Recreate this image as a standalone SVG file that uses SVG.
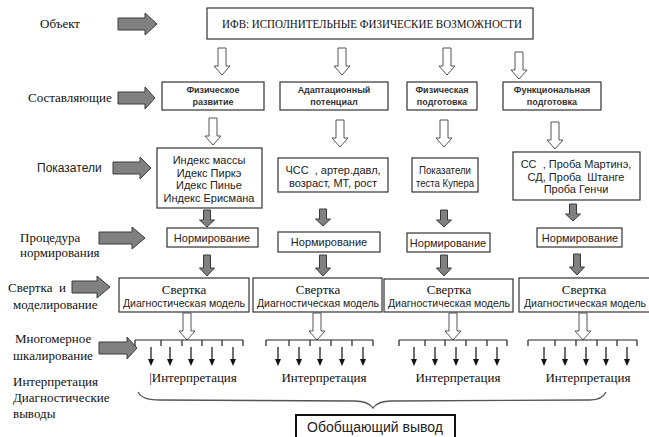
<svg xmlns="http://www.w3.org/2000/svg" width="649" height="437" viewBox="0 0 649 437">
<defs>
<style>
.bg{fill:#fff}
.box{fill:#fff;stroke:#333;stroke-width:1.2}
.sf{font-family:"Liberation Serif","Times New Roman",serif;fill:#111}
.ss{font-family:"Liberation Sans",Arial,sans-serif;fill:#222}
.lbl{font-size:13px}
.b2{font-size:9px;font-weight:bold;text-anchor:middle;fill:#333}
.b3{font-size:11px;text-anchor:middle}
.c{text-anchor:middle}
.garrow{fill:#808080;stroke:#3a3a3a;stroke-width:1}
.harrow{fill:#fff;stroke:#555;stroke-width:1}
.comb{fill:none;stroke:#222;stroke-width:1.2}
.karrow{stroke:#111;stroke-width:1.2}
</style>
<path id="hollow" d="M-4,0 V18 H-8 L0,27 L8,18 H4 V0 Z"/>
<path id="gdown" d="M-3.5,0 V10 H-7.5 L0,17 L7.5,10 H3.5 V0 Z"/>
<path id="gdown2" d="M-3.5,0 V13 H-7.5 L0,21 L7.5,13 H3.5 V0 Z"/>
<path id="karr" d="M0,0 V13"/>
<path id="khead" d="M-3,12 L3,12 L0,19 Z"/>
</defs>
<rect class="bg" x="0" y="0" width="649" height="437"/>

<!-- Left labels -->
<g id="labels">
<text class="sf lbl" x="40" y="28">Объект</text>
<text class="sf lbl" x="28" y="102">Составляющие</text>
<text class="ss" font-size="12" x="37" y="172">Показатели</text>
<text class="sf lbl" x="20" y="242">Процедура</text>
<text class="sf lbl" x="20" y="257">нормирования</text>
<text class="sf lbl" x="8" y="292" xml:space="preserve">Свертка  и</text>
<text class="sf lbl" x="13" y="309">моделирование</text>
<text class="sf lbl" x="15" y="343">Многомерное</text>
<text class="sf lbl" x="13" y="360">шкалирование</text>
<text class="sf lbl" x="13" y="386">Интерпретация</text>
<text class="sf lbl" x="13" y="402">Диагностические</text>
<text class="sf lbl" x="13" y="418">выводы</text>
</g>

<!-- Left gray block arrows -->
<g id="label-arrows" class="garrow">
<path d="M118,18 H145 V13 L157,24 L145,35 V30 H118 Z"/>
<path d="M118,92 H145 V87 L155,98 L145,109 V104 H118 Z"/>
<path d="M113,162 H140 V157 L151,168 L140,179 V174 H113 Z"/>
<path d="M99,232 H132 V227 L145,238 L132,249 V244 H99 Z"/>
<path d="M72,281 H97 V276 L110,287 L97,298 V293 H72 Z"/>
<path d="M99,342 H127 V337 L137,348 L127,359 V354 H99 Z"/>
</g>

<!-- Title -->
<g id="title">
<rect class="box" x="207" y="8" width="326" height="31" stroke-width="1"/>
<text class="sf c" font-size="12" x="372" y="28" textLength="300" lengthAdjust="spacingAndGlyphs">ИФВ: ИСПОЛНИТЕЛЬНЫЕ ФИЗИЧЕСКИЕ ВОЗМОЖНОСТИ</text>
</g>

<!-- Row 2 -->
<g id="comp1"><rect class="box" x="162" y="82" width="102" height="28"/><text class="ss b2" x="213" y="93">Физическое</text><text class="ss b2" x="213" y="105">развитие</text></g>
<g id="comp2"><rect class="box" x="280" y="82" width="108" height="28"/><text class="ss b2" x="334" y="93">Адаптационный</text><text class="ss b2" x="334" y="105">потенциал</text></g>
<g id="comp3"><rect class="box" x="407" y="82" width="70" height="28"/><text class="ss b2" x="442" y="93">Физическая</text><text class="ss b2" x="442" y="105">подготовка</text></g>
<g id="comp4"><rect class="box" x="503" y="82" width="98" height="28"/><text class="ss b2" x="552" y="93">Функциональная</text><text class="ss b2" x="552" y="105">подготовка</text></g>

<!-- Row 3 -->
<g id="ind1"><rect class="box" x="157" y="148" width="105" height="60"/>
<text class="ss b3" x="209" y="164">Индекс массы</text>
<text class="ss b3" x="209" y="177">Идекс Пиркэ</text>
<text class="ss b3" x="209" y="189">Идекс Пинье</text>
<text class="ss b3" x="209" y="202">Индекс Ерисмана</text></g>
<g id="ind2"><rect class="box" x="278" y="158" width="110" height="34"/>
<text class="ss b3" x="333" y="174" xml:space="preserve">ЧСС  , артер.давл,</text>
<text class="ss b3" x="333" y="187">возраст, МТ, рост</text></g>
<g id="ind3"><rect class="box" x="412" y="158" width="66" height="34"/>
<text class="ss b3" x="445" y="174" textLength="52" lengthAdjust="spacingAndGlyphs">Показатели</text>
<text class="ss b3" x="445" y="187" textLength="58" lengthAdjust="spacingAndGlyphs">теста Купера</text></g>
<g id="ind4"><rect class="box" x="513" y="152" width="127" height="48"/>
<text class="ss b3" x="576" y="168" xml:space="preserve">СС  , Проба Мартинэ,</text>
<text class="ss b3" x="576" y="181" xml:space="preserve">СД, Проба  Штанге</text>
<text class="ss b3" x="576" y="193">Проба Генчи</text></g>

<!-- Нормирование -->
<g id="norm1"><rect class="box" x="167" y="228" width="91" height="19"/><text class="ss b3" x="212" y="242">Нормирование</text></g>
<g id="norm2"><rect class="box" x="278" y="232" width="102" height="20"/><text class="ss b3" x="329" y="246">Нормирование</text></g>
<g id="norm3"><rect class="box" x="407" y="233" width="83" height="19"/><text class="ss b3" x="448" y="247">Нормирование</text></g>
<g id="norm4"><rect class="box" x="537" y="228" width="85" height="19"/><text class="ss b3" x="580" y="242">Нормирование</text></g>

<!-- Свертка -->
<g id="conv1"><rect class="box" x="119" y="278" width="130" height="34"/><text class="sf c" font-size="13" x="184" y="294">Свертка</text><text class="ss c" font-size="10.5" x="184" y="307">Диагностическая модель</text></g>
<g id="conv2"><rect class="box" x="253" y="278" width="129" height="34"/><text class="sf c" font-size="13" x="318" y="294">Свертка</text><text class="ss c" font-size="10.5" x="318" y="307">Диагностическая модель</text></g>
<g id="conv3"><rect class="box" x="384" y="279" width="129" height="33"/><text class="sf c" font-size="13" x="449" y="294">Свертка</text><text class="ss c" font-size="10.5" x="449" y="307">Диагностическая модель</text></g>
<g id="conv4"><rect class="box" x="519" y="278" width="140" height="34"/><text class="sf c" font-size="13" x="584" y="294">Свертка</text><text class="ss c" font-size="10.5" x="585" y="307">Диагностическая модель</text></g>

<!-- Connectors -->
<g id="connectors">
<g class="harrow">
<use href="#hollow" x="222" y="48"/>
<use href="#hollow" x="342" y="48"/>
<use href="#hollow" x="447" y="48"/>
<use href="#hollow" x="519" y="52"/>
<use href="#hollow" x="213" y="118"/>
<use href="#hollow" x="340" y="120"/>
<use href="#hollow" x="444" y="120"/>
<use href="#hollow" x="555" y="122"/>
<use href="#hollow" x="187" y="313"/>
<use href="#hollow" x="317" y="313"/>
<use href="#hollow" x="453" y="313"/>
<use href="#hollow" x="583" y="313"/>
</g>
<g class="garrow">
<use href="#gdown" x="207" y="210"/>
<use href="#gdown" x="323" y="209"/>
<use href="#gdown" x="444" y="210"/>
<use href="#gdown" x="573" y="204"/>
<use href="#gdown2" x="207" y="255"/>
<use href="#gdown2" x="323" y="255"/>
<use href="#gdown2" x="444" y="255"/>
<use href="#gdown2" x="577" y="254"/>
</g>
<!-- combs -->
<path class="comb" d="M135,340 H243 M135,340 V346 M161,340 V346 M182,340 V346 M202,340 V346 M222,340 V346 M243,340 V346"/>
<path class="comb" d="M266,340 H373 M266,340 V346 M289,340 V346 M310,340 V346 M331,340 V346 M352,340 V346 M373,340 V346"/>
<path class="comb" d="M399,340 H507 M399,340 V346 M425,340 V346 M445,340 V346 M466,340 V346 M487,340 V346 M507,340 V346"/>
<path class="comb" d="M528,340 H637 M528,340 V346 M555,340 V346 M576,340 V346 M597,340 V346 M617,340 V346 M637,340 V346"/>
<g class="karrow" fill="#111">
<use href="#karr" x="151" y="347"/><use href="#khead" x="151" y="347" stroke="none"/>
<use href="#karr" x="170" y="347"/><use href="#khead" x="170" y="347" stroke="none"/>
<use href="#karr" x="191" y="347"/><use href="#khead" x="191" y="347" stroke="none"/>
<use href="#karr" x="212" y="347"/><use href="#khead" x="212" y="347" stroke="none"/>
<use href="#karr" x="233" y="347"/><use href="#khead" x="233" y="347" stroke="none"/>
<use href="#karr" x="278" y="347"/><use href="#khead" x="278" y="347" stroke="none"/>
<use href="#karr" x="299" y="347"/><use href="#khead" x="299" y="347" stroke="none"/>
<use href="#karr" x="320" y="347"/><use href="#khead" x="320" y="347" stroke="none"/>
<use href="#karr" x="342" y="347"/><use href="#khead" x="342" y="347" stroke="none"/>
<use href="#karr" x="363" y="347"/><use href="#khead" x="363" y="347" stroke="none"/>
<use href="#karr" x="414" y="347"/><use href="#khead" x="414" y="347" stroke="none"/>
<use href="#karr" x="435" y="347"/><use href="#khead" x="435" y="347" stroke="none"/>
<use href="#karr" x="456" y="347"/><use href="#khead" x="456" y="347" stroke="none"/>
<use href="#karr" x="476" y="347"/><use href="#khead" x="476" y="347" stroke="none"/>
<use href="#karr" x="497" y="347"/><use href="#khead" x="497" y="347" stroke="none"/>
<use href="#karr" x="544" y="347"/><use href="#khead" x="544" y="347" stroke="none"/>
<use href="#karr" x="565" y="347"/><use href="#khead" x="565" y="347" stroke="none"/>
<use href="#karr" x="586" y="347"/><use href="#khead" x="586" y="347" stroke="none"/>
<use href="#karr" x="606" y="347"/><use href="#khead" x="606" y="347" stroke="none"/>
<use href="#karr" x="627" y="347"/><use href="#khead" x="627" y="347" stroke="none"/>
</g>
<!-- brace -->
<path d="M138,392 C142,399 150,400 160,400 L355,401 C365,401 370,404 373,408 C376,404 381,401 391,401 L590,400 C598,400 603,398 606,392" fill="none" stroke="#555" stroke-width="1.3"/>
</g>

<!-- Interpretation -->
<g id="interp">
<text class="sf c" font-size="13" x="193" y="382">|Интерпретация</text>
<text class="sf c" font-size="13" x="324" y="382">Интерпретация</text>
<text class="sf c" font-size="13" x="458" y="382">Интерпретация</text>
<text class="sf c" font-size="13" x="588" y="382">Интерпретация</text>
</g>

<!-- Conclusion -->
<g id="conclusion">
<rect x="296" y="415" width="159" height="28" fill="#fff" stroke="#111" stroke-width="2"/>
<text class="ss c" font-size="14" x="375" y="432" fill="#111">Обобщающий вывод</text>
</g>
</svg>
